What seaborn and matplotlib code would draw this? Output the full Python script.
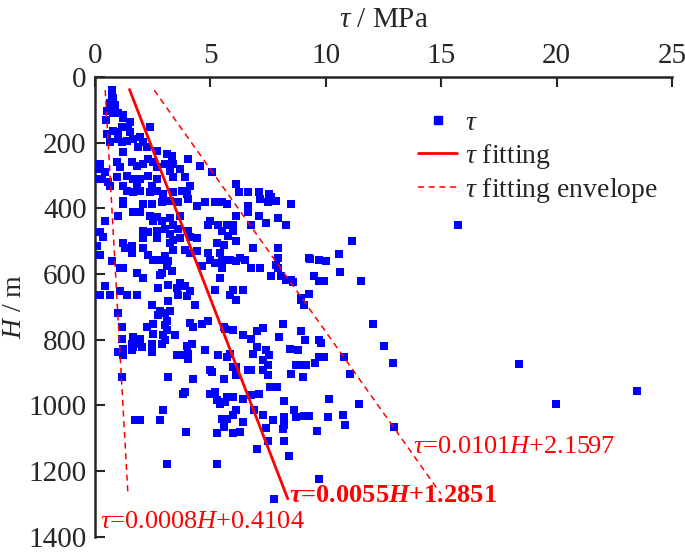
import numpy as np
import matplotlib
matplotlib.use("Agg")
import matplotlib.pyplot as plt
from matplotlib.lines import Line2D
import seaborn as sns

# measured shear stress tau (MPa) and depth H (m)
tau = [
    0.73, 0.73, 0.78, 0.65, 0.87, 0.51, 0.78, 1.00, 1.22, 0.48, 1.22,
    1.52, 1.43, 1.17, 2.39, 0.78, 1.00, 0.52, 1.52, 1.96, 1.65, 0.65, 1.17, 1.00, 1.39,
    1.22, 1.87, 2.09, 2.26, 2.70, 3.13, 3.35,
    0.22, 0.09, 0.43, 0.96, 1.09, 1.61, 1.83, 2.09, 2.30, 2.52, 2.70, 3.04, 3.39, 3.70, 4.04, 3.26,
    0.09, 0.30, 0.57, 0.96, 1.39, 1.65, 1.96, 2.30, 2.70, 3.39, 3.91, 4.13, 0.65, 1.22, 1.83, 2.48,
    5.09, 6.09, 4.57,
    1.39, 1.65, 1.96, 2.39, 2.70, 2.96, 3.39, 3.78, 4.00,
    1.22, 1.22, 2.09, 2.48, 2.91, 3.26, 3.61, 4.04, 4.43,
    1.65, 1.96, 1.00, 2.39, 2.70, 2.91, 3.26, 3.70, 3.39, 3.04, 2.52,
    0.43, 2.09, 2.30, 2.70, 3.61, 4.04, 3.26, 2.09, 2.70, 3.39, 3.70, 4.13, 4.43,
    0.22, 0.35, 0.09, 1.22, 1.30, 1.61, 1.61, 2.09, 3.26, 3.39, 3.91, 4.13, 4.43,
    0.22, 0.74, 2.30, 2.52, 2.83, 3.04, 3.17, 3.13, 1.22, 1.09, 1.83, 2.09, 2.91, 2.83, 3.35,
    0.43, 0.22, 0.65, 1.09, 1.39, 1.83, 2.74, 3.17, 3.57, 3.70, 3.91, 4.13, 3.61, 4.00,
    6.22, 6.65, 7.09, 7.52, 7.61, 7.17, 4.78, 5.22, 5.52, 5.74, 6.61, 7.48, 7.83, 8.48,
    6.09, 6.61, 7.09, 7.91, 7.39, 6.74, 8.26,
    5.00, 4.91, 5.35, 5.74, 6.00, 5.52, 6.00, 5.78, 6.09,
    5.30, 5.57, 4.91, 5.43, 5.00, 5.22, 5.52, 5.52, 5.87, 6.09, 6.30, 6.52, 4.65, 5.43,
    6.83, 7.91, 7.91, 7.83, 6.74, 7.17, 7.91, 7.61, 8.04, 8.26, 8.48, 9.26, 8.91,
    5.22, 5.96, 5.87, 6.43,
    11.13, 10.57, 9.30, 9.70, 10.00, 10.61, 9.48, 9.70, 9.91, 11.52, 8.57, 9.26, 15.74,
    8.91, 9.04, 8.13, 7.30, 7.04, 8.91, 7.96, 9.09, 9.70, 9.78, 6.74, 7.04, 7.39, 7.52,
    6.83, 8.43, 8.78, 12.04, 12.52, 12.91, 10.78, 9.91, 9.70, 9.52, 7.26, 7.48, 8.70,
    8.91, 9.13, 8.48, 9.00, 6.74, 7.30, 7.48, 11.04, 7.57, 7.87, 6.74, 7.09, 8.17,
    10.13, 11.43, 6.87, 7.30, 7.70, 8.17, 8.61, 8.70, 9.04, 9.26, 10.09, 10.74, 10.83,
    8.17, 8.13, 7.39, 9.61, 12.96, 7.48, 8.17, 7.04, 8.39, 9.70,
    3.17, 4.35, 2.48, 6.09, 2.83, 2.74, 3.04, 3.26, 1.00, 1.17, 2.52, 3.13, 3.04, 4.13,
    4.26, 4.91, 4.65, 5.57, 5.65, 6.00,
    2.26, 1.17, 1.65, 1.96, 1.87, 1.61, 1.65, 2.04, 2.48, 2.52, 3.13, 2.96, 3.04, 3.48,
    2.91, 2.48, 1.22, 1.00, 1.22, 1.61, 3.57, 3.78, 4.00, 4.22, 4.04, 4.04, 4.78, 5.35,
    5.87, 6.00, 5.74, 6.43,
    1.17, 3.17, 4.26, 5.00, 5.09, 5.57, 6.09, 6.09, 6.61,
    3.91, 3.83, 5.00, 5.22, 5.30, 5.43, 5.65, 5.74, 6.00, 6.43, 6.09, 5.96, 5.52, 5.74,
    6.43, 5.57, 6.00, 6.30, 5.30,
    1.74, 1.96, 2.83, 2.96, 3.96, 3.13, 5.30,
    18.35, 19.96, 23.48, 7.74,
]
depth = [
    39, 54, 63, 78, 84, 105, 109, 109, 115, 130, 124,
    136, 151, 151, 151, 166, 169, 175, 169, 184, 190, 199, 199, 190, 196,
    229, 214, 199, 214, 226, 235, 241,
    265, 281, 290, 259, 275, 259, 272, 265, 250, 259, 275, 265, 265, 281, 250, 287,
    311, 311, 320, 305, 302, 311, 311, 302, 311, 305, 305, 332, 332, 332, 332, 332,
    290, 326, 272,
    347, 350, 347, 350, 347, 356, 350, 347, 356,
    377, 386, 386, 386, 380, 377, 380, 371, 392,
    410, 410, 422, 422, 425, 440, 431, 422, 452, 462, 440,
    440, 468, 471, 468, 462, 468, 477, 492, 492, 498, 492, 486, 492,
    471, 486, 516, 507, 522, 516, 537, 522, 507, 528, 528, 537, 531,
    543, 561, 543, 558, 558, 546, 561, 576, 582, 582, 597, 612, 597, 603, 591,
    636, 664, 664, 652, 664, 664, 642, 633, 642, 627, 636, 652, 664, 667,
    350, 350, 350, 356, 365, 371, 380, 380, 380, 386, 392, 380, 377, 386,
    422, 410, 422, 431, 446, 452, 452,
    440, 452, 452, 452, 452, 468, 468, 483, 501,
    507, 513, 537, 537, 558, 567, 558, 582, 558, 561, 552, 558, 576, 612,
    522, 522, 552, 573, 582, 582, 582, 606, 606, 618, 618, 552, 673,
    649, 649, 664, 649,
    501, 540, 555, 558, 561, 594, 606, 621, 621, 621, 624, 661, 452,
    679, 694, 754, 766, 775, 775, 793, 802, 802, 811, 799, 824, 833, 848,
    845, 830, 833, 754, 821, 872, 854, 854, 854, 872, 863, 878, 878,
    878, 878, 905, 914, 893, 893, 908, 905, 944, 944, 968, 965, 986,
    980, 995, 1014, 1029, 1044, 1035, 1014, 1035, 1032, 1032, 1035, 1029, 1059,
    1059, 1071, 1068, 1077, 1065, 1110, 1110, 1134, 1155, 1225,
    682, 694, 694, 679, 712, 724, 718, 712, 718, 763, 754, 742, 757, 748,
    763, 742, 754, 763, 769, 772,
    763, 799, 793, 799, 814, 814, 824, 824, 814, 784, 772, 787, 802, 787,
    814, 839, 830, 839, 848, 833, 848, 848, 818, 814, 845, 860, 833, 848,
    845, 884, 854, 787,
    914, 914, 920, 893, 899, 920, 884, 908, 893,
    959, 965, 965, 959, 983, 995, 989, 974, 974, 980, 1014, 1029, 1041, 1041,
    1050, 1065, 1086, 1080, 1086,
    1044, 1044, 1044, 1014, 1080, 1180, 1180,
    875, 995, 956, 1285,
]

# fitted relations tau = a*H + b and their depth ranges
fit_coef = (0.0055, 1.2851)
upper_coef = (0.0101, 2.1597)
lower_coef = (0.0008, 0.4104)
fit_depth = [38, 1285]
upper_depth = [40, 1270]
lower_depth = [40, 1267]

sns.set_style("ticks")
plt.rcParams["font.family"] = ["Liberation Serif", "DejaVu Serif"]
plt.rcParams["mathtext.fontset"] = "custom"
plt.rcParams["mathtext.rm"] = "Liberation Serif"
plt.rcParams["mathtext.it"] = "Liberation Serif:italic"
plt.rcParams["mathtext.bf"] = "Liberation Serif:bold"
plt.rcParams["mathtext.bfit"] = "Liberation Serif:italic:bold"

fs = 21
fig = plt.figure(figsize=(6.85, 5.52), dpi=100)
ax = fig.add_axes([0.1387, 0.028, 0.8423, 0.8325])

sns.scatterplot(x=tau, y=depth, marker="s", s=34, color="#0000ff",
                linewidth=0, ax=ax, legend=False, zorder=3)


def fit_line(coef, hs, **kw):
    hs = np.array(hs, dtype=float)
    sns.lineplot(x=coef[0] * hs + coef[1], y=hs, sort=False, estimator=None,
                 ax=ax, color="#ff0000", **kw)


fit_line(fit_coef, fit_depth, linewidth=2.0, zorder=4)
fit_line(upper_coef, upper_depth, linewidth=1.1, dashes=(4, 3), zorder=4)
fit_line(lower_coef, lower_depth, linewidth=1.1, dashes=(4, 3), zorder=4)

ax.set_xlim(0, 25)
ax.set_ylim(1400, 0)
ax.set_xticks([0, 5, 10, 15, 20, 25])
ax.set_yticks([0, 200, 400, 600, 800, 1000, 1200, 1400])
ax.xaxis.tick_top()
ax.xaxis.set_label_position("top")
ax.tick_params(direction="in", length=7, width=1.5, labelsize=fs, pad=6)
ax.tick_params(axis="x", bottom=False)
ax.tick_params(axis="y", right=False)
for side in ["right", "bottom"]:
    ax.spines[side].set_visible(False)
for side in ["left", "top"]:
    ax.spines[side].set_linewidth(1.8)

ax.set_xlabel(r"$\tau$ / MPa", fontsize=21, labelpad=11)
ax.set_ylabel(r"$H$ / m", fontsize=20)
ax.yaxis.set_label_coords(-0.118, 0.5)

handles = [
    Line2D([], [], marker="s", linestyle="none", color="#0000ff", markersize=5.5),
    Line2D([], [], color="#ff0000", linewidth=2.0),
    Line2D([], [], color="#ff0000", linewidth=1.1, dashes=(4, 3)),
]
ax.legend(handles, [r"$\tau$", r"$\tau$ fitting", r"$\tau$ fitting envelope"],
          loc="upper left", bbox_to_anchor=(0.56, 0.927), frameon=False,
          borderpad=0, borderaxespad=0,
          fontsize=20, handlelength=1.4, handletextpad=0.3, labelspacing=0.2)

ax.text(13.8, 1128, r"$\tau$=0.0101$H$+2.1597", color="#ff0000", fontsize=19,
        va="center", ha="left")
ax.text(8.39, 1276, r"$\mathbfit{\tau}$=0.0055$\mathbfit{H}$+1.2851", color="#ff0000",
        fontsize=19, fontweight="bold", va="center", ha="left")
ax.text(0.22, 1357, r"$\tau$=0.0008$H$+0.4104", color="#ff0000", fontsize=19,
        va="center", ha="left")

fig.savefig("out.png", dpi=100)
